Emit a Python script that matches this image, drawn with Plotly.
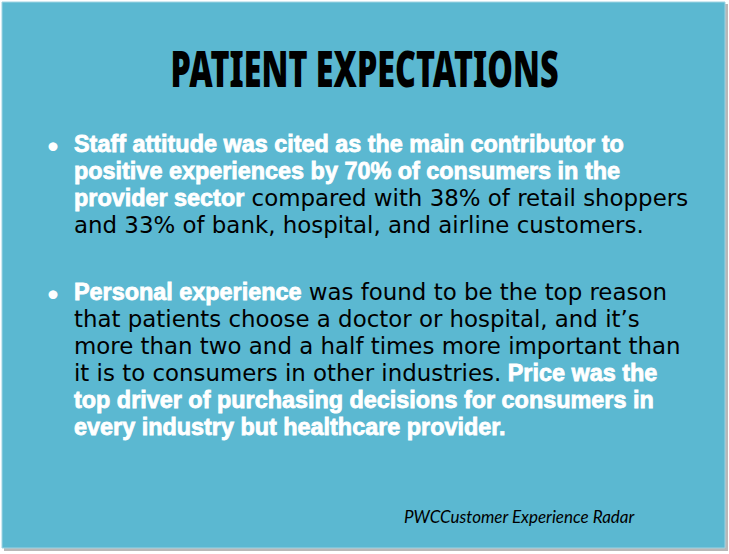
import plotly.graph_objects as go

title = "PATIENT EXPECTATIONS"
source = "PWCCustomer Experience Radar"

# each line: list of (text, emphasised?) pieces
para1 = [
    [("Staff attitude was cited as the main contributor to", True)],
    [("positive experiences by 70% of consumers in the", True)],
    [("provider sector", True), (" compared with 38% of retail shoppers", False)],
    [("and 33% of bank, hospital, and airline customers.", False)],
]
para2 = [
    [("Personal experience", True), (" was found to be the top reason", False)],
    [("that patients choose a doctor or hospital, and it\u2019s", False)],
    [("more than two and a half times more important than", False)],
    [("it is to consumers in other industries.", False), (" Price was the", True)],
    [("top driver of purchasing decisions for consumers in", True)],
    [("every industry but healthcare provider.", True)],
]
para1_y = [144, 171, 198, 225]
para2_y = [292, 319, 346, 373, 400, 427]

BG = "#5bb8d1"
W, H = 729, 554
LINE_GAP = 27

fig = go.Figure()

# slide + shadow
fig.add_shape(type="rect", x0=4, y0=4, x1=728, y1=551, fillcolor="#b8b8b8",
              line=dict(width=0), layer="below")
fig.add_shape(type="rect", x0=2, y0=2, x1=725, y1=548, fillcolor=BG,
              line=dict(color="#9fd3e2", width=1), layer="below")

fig.add_annotation(x=364, y=68, text=title, showarrow=False,
                   xanchor="center", yanchor="middle",
                   font=dict(family="Noto Sans", size=50, color="black", weight=900))


def line_html(pieces):
    out = ""
    for txt, emph in pieces:
        if emph:
            out += ('<span style="color:white;font-family:Liberation Sans;font-weight:700;'
                    'font-size:23.4px;stroke:white;stroke-width:0.8px">' + txt + '</span>')
        else:
            out += ('<span style="color:black;font-family:DejaVu Sans;font-size:22.9px">'
                    + txt + '</span>')
    return out


for lines, ys in [(para1, para1_y), (para2, para2_y)]:
    fig.add_annotation(x=53, y=ys[0], text="\u2022", showarrow=False,
                       xanchor="center", yanchor="middle",
                       font=dict(family="Lato", size=24, color="white"))
    fig.add_annotation(x=72, y=(ys[0] + ys[-1]) / 2,
                       text="<br>".join(line_html(p) for p in lines),
                       showarrow=False, xanchor="left", yanchor="middle", align="left",
                       font=dict(family="DejaVu Sans", size=LINE_GAP / 1.3, color="black"))

fig.add_annotation(x=402, y=516, text="<i>" + source + "</i>", showarrow=False,
                   xanchor="left", yanchor="middle",
                   font=dict(family="Lato", size=17, color="black"))

fig.update_xaxes(range=[0, W], visible=False)
fig.update_yaxes(range=[H, 0], visible=False)
fig.update_layout(width=W, height=H, margin=dict(l=0, r=0, t=0, b=0),
                  paper_bgcolor="white", plot_bgcolor="white", showlegend=False)

# page margin off; squeeze the heading to an Impact-like width
js = """
document.body.style.margin='0';document.body.style.overflow='hidden';
Array.from(document.querySelectorAll('text.annotation-text')).forEach(function(t){
  if (t.textContent === 'PATIENT EXPECTATIONS') {
    var bb = t.getBBox(), cx = bb.x + bb.width / 2, s = 388 / bb.width;
    var tr = t.getAttribute('transform') || '';
    t.setAttribute('transform', tr + ' translate(' + cx + ',0) scale(' + s + ',1) translate(' + (-cx) + ',0)');
  }
});
"""
fig.write_html("out.html", post_script=js, config={"displayModeBar": False})
